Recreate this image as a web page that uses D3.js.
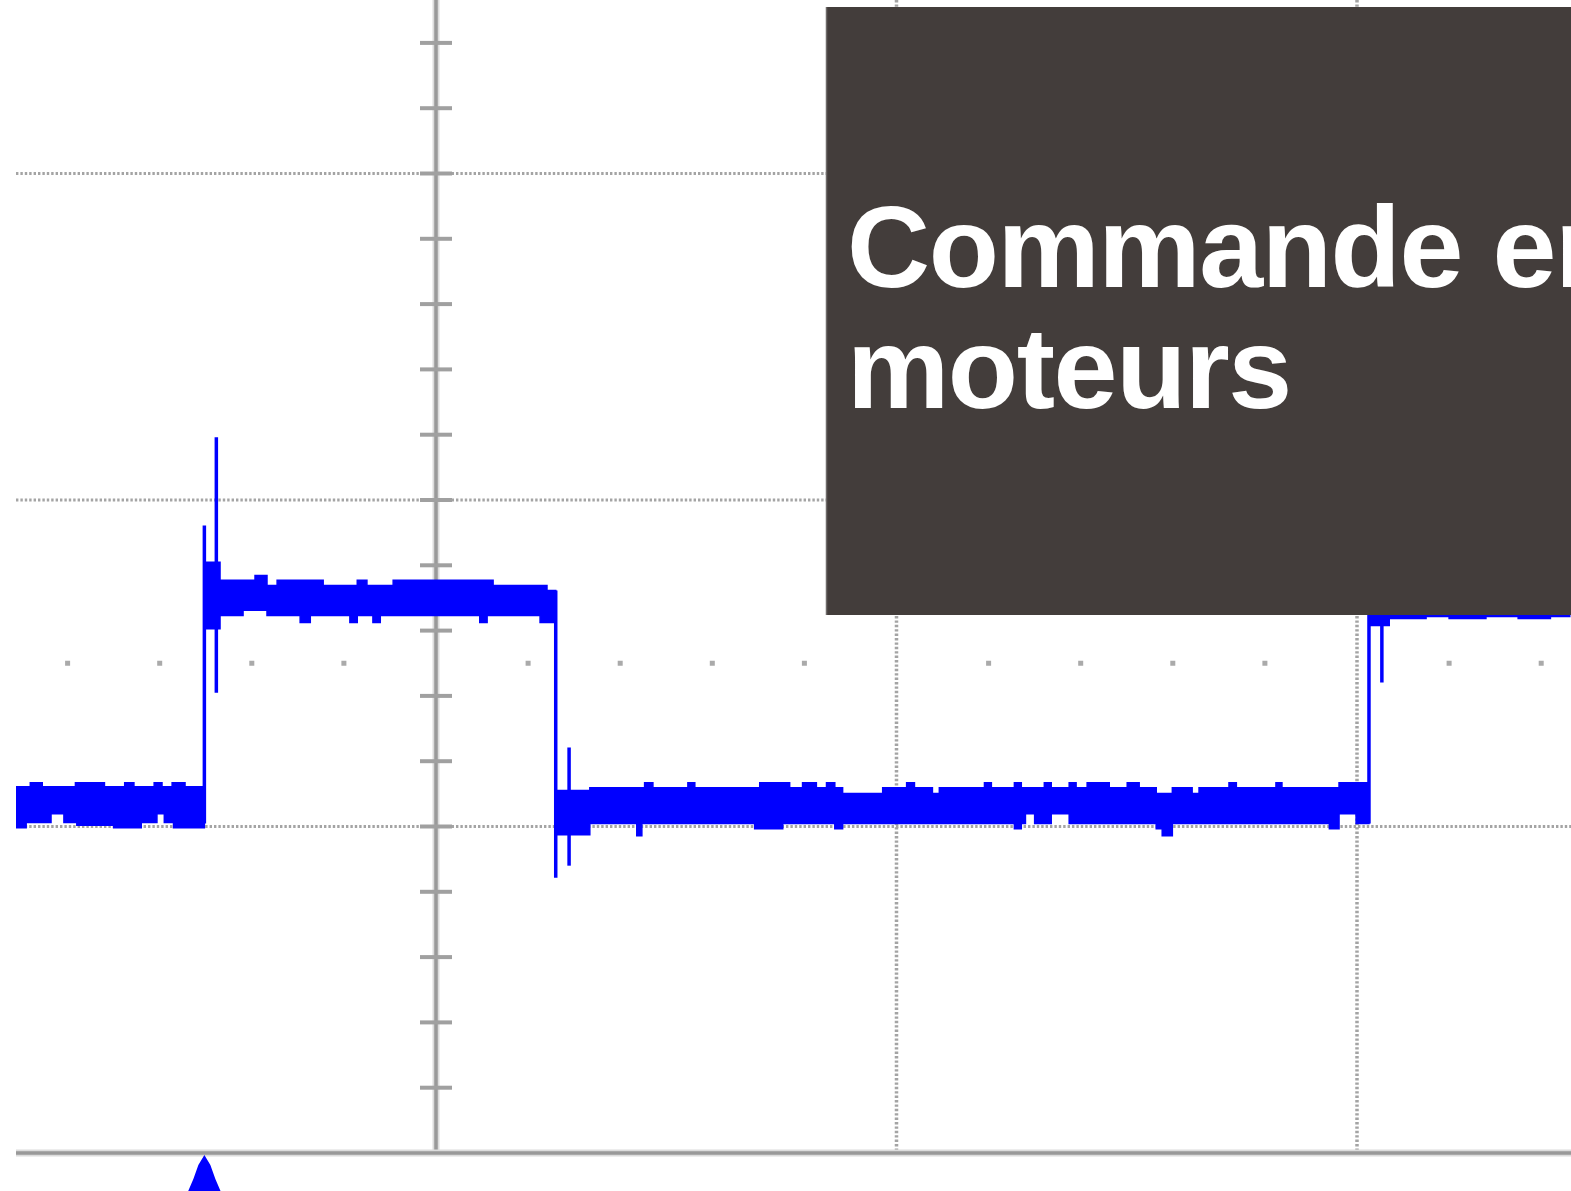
<!DOCTYPE html>
<html><head><meta charset="utf-8">
<script src="https://cdn.jsdelivr.net/npm/d3@7"></script>
<style>html,body{margin:0;padding:0;background:#fff;overflow:hidden}</style>
</head><body><svg id="c" width="1571" height="1191"></svg>
<script>
// ---- Data (time in divisions, amplitude in divisions) ----
const titleLines = ["Commande en", "moteurs"];
const majorTimeGrid = [1, 2];
const majorLevelGrid = [1, 2, 3];
const axisTicks = [0.2,0.4,0.6,0.8,1,1.2,1.4,1.6,1.8,2,2.2,2.4,2.6,2.8,3,3.2,3.4];
const minorDotTimes = [-0.8,-0.6,-0.4,-0.2,0.2,0.4,0.6,0.8,1.2,1.4,1.6,1.8,2.2,2.4];
const minorDotLevel = 1.5;
const triggerTime = -0.503;

// trace envelopes per segment [t, v]
const segAUpper = [[-0.911,1.122],[-0.881,1.134],[-0.855,1.122],[-0.783,1.134],[-0.720,1.122],[-0.676,1.134],[-0.656,1.122],[-0.612,1.134],[-0.595,1.122],[-0.573,1.134],[-0.545,1.122],[-0.503,1.122]];
const segALower = [[-0.911,0.996],[-0.890,1.012],[-0.836,1.039],[-0.808,1.012],[-0.780,1.004],[-0.700,0.996],[-0.640,1.012],[-0.606,1.039],[-0.590,1.012],[-0.570,0.996],[-0.503,1.004]];
const segBUpper = [[-0.501,1.809],[-0.469,1.754],[-0.393,1.769],[-0.367,1.738],[-0.345,1.754],[-0.245,1.738],[-0.171,1.754],[-0.150,1.738],[-0.093,1.754],[0.124,1.738],[0.241,1.723],[0.260,1.723]];
const segBLower = [[-0.501,1.606],[-0.469,1.646],[-0.419,1.662],[-0.367,1.646],[-0.295,1.625],[-0.273,1.646],[-0.187,1.625],[-0.171,1.646],[-0.137,1.625],[-0.121,1.646],[0.095,1.625],[0.111,1.646],[0.226,1.625],[0.260,1.625]];
const segCUpper = [[0.260,1.110],[0.334,1.119],[0.453,1.134],[0.471,1.119],[0.547,1.134],[0.562,1.119],[0.703,1.134],[0.768,1.119],[0.796,1.134],[0.826,1.119],[0.848,1.134],[0.866,1.119],[0.883,1.101],[0.970,1.119],[1.022,1.134],[1.039,1.119],[1.078,1.101],[1.093,1.119],[1.191,1.134],[1.206,1.119],[1.256,1.134],[1.271,1.119],[1.321,1.134],[1.336,1.119],[1.375,1.134],[1.390,1.119],[1.414,1.134],[1.462,1.119],[1.501,1.134],[1.527,1.119],[1.564,1.101],[1.599,1.119],[1.642,1.101],[1.657,1.119],[1.722,1.134],[1.738,1.119],[1.824,1.134],[1.837,1.119],[1.961,1.134],[2.026,1.134]];
const segCLower = [[0.260,0.975],[0.334,1.009],[0.436,0.972],[0.447,1.009],[0.692,0.993],[0.753,1.009],[0.866,0.993],[0.883,1.009],[1.256,0.993],[1.271,1.009],[1.280,1.039],[1.300,1.009],[1.336,1.039],[1.375,1.009],[1.564,0.993],[1.577,0.972],[1.599,1.009],[1.940,0.993],[1.961,1.039],[1.998,1.009],[2.026,1.009]];
const segDUpper = [[2.026,1.760],[2.462,1.760]];
const segDLower = [[2.026,1.616],[2.070,1.637],[2.150,1.643],[2.200,1.637],[2.280,1.643],[2.350,1.637],[2.420,1.643],[2.462,1.643]];
// vertical edges and ringing spikes [t, vFrom, vTo]
const edges = [[-0.503,1.009,1.922],[-0.477,1.410,2.192],[0.260,1.723,0.843],[0.289,1.242,0.880],[2.026,1.009,1.760],[2.054,1.441,1.646]];

// ---- Scales ----
const W = 1571, H = 1191;
const x = d3.scaleLinear().domain([0, 2]).range([436, 1357]);
const y = d3.scaleLinear().domain([0, 3]).range([1153, 173.5]);
const left = 16;
const svg = d3.select("#c");
svg.append("defs").append("clipPath").attr("id","plot")
  .append("rect").attr("x", left).attr("y", 0).attr("width", W-left).attr("height", 1153);

const grid = svg.append("g");
const gridColor = "#a4a4a4";
// horizontal dotted lines
grid.selectAll("line.h").data(majorLevelGrid).join("line")
  .attr("x1", left).attr("x2", W).attr("y1", d=>y(d)).attr("y2", d=>y(d))
  .attr("stroke", gridColor).attr("stroke-width", 3).attr("stroke-dasharray", "2.4,2");
// vertical dotted lines
grid.selectAll("line.v").data(majorTimeGrid).join("line")
  .attr("x1", d=>x(d)).attr("x2", d=>x(d)).attr("y1", 0).attr("y2", y(0))
  .attr("stroke", gridColor).attr("stroke-width", 3.5).attr("stroke-dasharray", "2.4,2");
// minor dots
grid.selectAll("rect.dot").data(minorDotTimes).join("rect")
  .attr("x", d=>x(d)-2.5).attr("y", y(minorDotLevel)-2.5).attr("width",5).attr("height",5)
  .attr("fill", "#aaaaaa");
// centre vertical axis
grid.append("line").attr("x1", x(0)).attr("x2", x(0)).attr("y1", 0).attr("y2", y(0))
  .attr("stroke", "#dcdcdc").attr("stroke-width", 7);
grid.append("line").attr("x1", x(0)).attr("x2", x(0)).attr("y1", 0).attr("y2", y(0))
  .attr("stroke", "#999").attr("stroke-width", 3.5);
grid.selectAll("line.tk").data(axisTicks).join("line")
  .attr("x1", x(0)-16).attr("x2", x(0)+16).attr("y1", d=>y(d)).attr("y2", d=>y(d))
  .attr("stroke", "#a0a0a0").attr("stroke-width", 4);
// bottom axis
grid.append("line").attr("x1", left).attr("x2", W).attr("y1", y(0)).attr("y2", y(0))
  .attr("stroke", "#dcdcdc").attr("stroke-width", 7);
grid.append("line").attr("x1", left).attr("x2", W).attr("y1", y(0)).attr("y2", y(0))
  .attr("stroke", "#999").attr("stroke-width", 3.5);

// ---- Trace ----
const trace = svg.append("g").attr("clip-path","url(#plot)");
const upLine = d3.line().x(d=>x(d[0])).y(d=>y(d[1])).curve(d3.curveStepAfter);
const loLine = d3.line().x(d=>x(d[0])).y(d=>y(d[1])).curve(d3.curveStepBefore);
const blue = "#0000ff";
[[segAUpper,segALower],[segBUpper,segBLower],[segCUpper,segCLower],[segDUpper,segDLower]].forEach(([u,l])=>{
  const p = upLine(u) + loLine(l.slice().reverse()).replace(/^M/,"L") + "Z";
  trace.append("path").attr("d", p).attr("fill", blue).attr("stroke", blue).attr("stroke-width", 1.5).attr("stroke-linejoin","miter");
});
trace.selectAll("line.edge").data(edges).join("line")
  .attr("x1", d=>x(d[0])).attr("x2", d=>x(d[0])).attr("y1", d=>y(d[1])).attr("y2", d=>y(d[2]))
  .attr("stroke", blue).attr("stroke-width", 3.5);

// trigger marker
const tx = x(triggerTime), ty = y(0) + 2;
svg.append("path")
  .attr("d", `M${tx},${ty} L${tx+6},${ty+10} L${tx+11},${ty+24} L${tx+20},${ty+45} L${tx-20},${ty+45} L${tx-11},${ty+24} L${tx-6},${ty+10} Z`)
  .attr("fill", blue);

// ---- Title box ----
const box = svg.append("g");
box.append("rect").attr("x", 826).attr("y", 7).attr("width", W-826+2).attr("height", 608).attr("fill", "#433d3b");
box.append("line").attr("x1", 826.5).attr("x2", 826.5).attr("y1", 7).attr("y2", 615).attr("stroke", "#6e6a68").attr("stroke-width", 1.5);
box.selectAll("text").data(titleLines).join("text")
  .attr("x", 847).attr("y", (d,i)=> 287 + i*121)
  .attr("fill", "#fff")
  .attr("font-family", "'Liberation Sans', Arial, sans-serif")
  .attr("font-weight", "bold").attr("font-size", 115).attr("letter-spacing", -1.4)
  .text(d=>d);
</script></body></html>
